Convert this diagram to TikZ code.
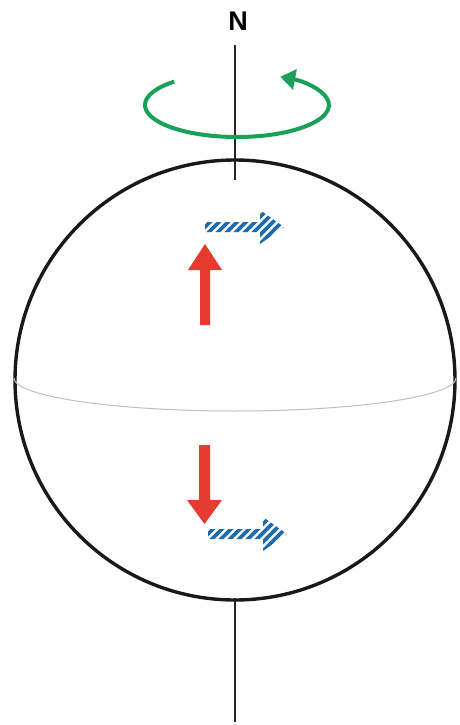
\documentclass[tikz,border=0pt]{standalone}
\usepackage{fontspec}
\setmainfont{Liberation Sans}
\usetikzlibrary{arrows.meta}
\definecolor{spinred}{HTML}{E53B30}
\definecolor{stripeblue}{HTML}{1E6BAD}
\definecolor{rotgreen}{HTML}{1AA158}
\tikzset{
  axisline/.style={line width=1.2pt,black!85},
  globe/.style={line width=3.4pt,black!90},
  equator/.style={line width=1pt,black!25},
  rotarrow/.style={line width=4pt,rotgreen,-{Triangle[length=15pt,width=20pt]}},
  redarrow/.style={fill=spinred,draw=none},
}
\newcommand{\stripedarrow}[2]{%
  \begin{scope}
    \clip (#1,#2-5) -- (#1+55,#2-5) -- (#1+55,#2-17) -- (#1+79,#2) -- (#1+55,#2+17) -- (#1+55,#2+5) -- (#1,#2+5) -- cycle;
    \foreach \k in {-4,...,12}{
      \draw[stripeblue,line width=3.6pt] (#1+\k*9-20,#2+20) -- (#1+\k*9+20,#2-20);
    }
  \end{scope}}
\begin{document}
\begin{tikzpicture}[x=1pt,y=-1pt]
\useasboundingbox[fill=white] (0,0) rectangle (460,725);
% axis
\node[inner sep=0pt] (N) at (238,21) {\fontsize{27}{30}\selectfont\bfseries N};
\coordinate (axtop) at (235,45);
\coordinate (axin) at (235,180);
\coordinate (axbot1) at (235,598);
\coordinate (axbot2) at (235,722);
\draw[axisline] (axtop) -- (axin);
\draw[axisline] (axbot1) -- (axbot2);
% globe
\node[globe,circle,draw,minimum size=440pt,inner sep=0pt] (earth) at (235,380) {};
% equator
\draw[equator] (14,378) arc[start angle=180,end angle=360,x radius=221,y radius=-33];
% rotation arrow
\draw[rotarrow] (237,105) ++(133:92 and -32) arc[start angle=133,end angle=422,x radius=92,y radius=-32];
% northern hemisphere
\fill[redarrow] (200,325) -- (200,270) -- (188,270) -- (205,244) -- (222,270) -- (210,270) -- (210,325) -- cycle;
\stripedarrow{205}{227}
% southern hemisphere
\fill[redarrow] (199,445) -- (199,500) -- (187,500) -- (204.5,524) -- (222,500) -- (210,500) -- (210,445) -- cycle;
\stripedarrow{208}{534}
\end{tikzpicture}
\end{document}
